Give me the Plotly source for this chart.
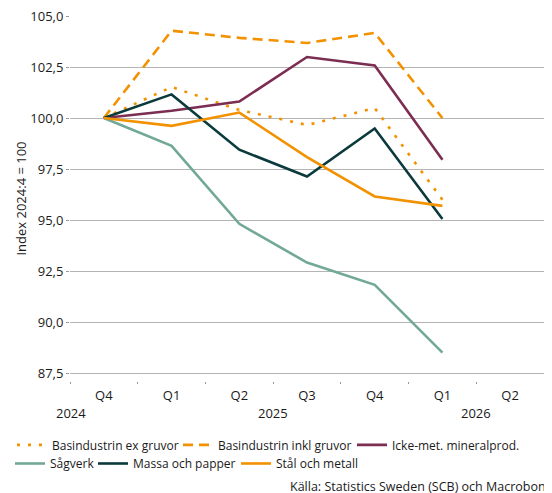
import plotly.graph_objects as go

quarters = ["Q4", "Q1", "Q2", "Q3", "Q4", "Q1", "Q2"]
years = ["2024", "2025", "2026"]

ex_gruvor = [100.0, 101.52, 100.40, 99.66, 100.49, 96.0]
inkl_gruvor = [100.0, 104.28, 103.93, 103.68, 104.17, 100.0]
icke_met = [100.0, 100.36, 100.81, 102.99, 102.58, 97.96]
sagverk = [100.0, 98.64, 94.82, 92.92, 91.83, 88.51]
massa = [100.0, 101.16, 98.45, 97.14, 99.49, 95.06]
stal = [100.0, 99.62, 100.27, 98.09, 96.16, 95.70]

ORANGE = "#F39200"
FONT = "Open Sans"

series = [
    ("Basindustrin ex gruvor", ex_gruvor, ORANGE, "3px,8px"),
    ("Basindustrin inkl gruvor", inkl_gruvor, ORANGE, "10px,6px"),
    ("Icke-met. mineralprod.", icke_met, "#7B2D52", "solid"),
    ("Sågverk", sagverk, "#72A898", "solid"),
    ("Massa och papper", massa, "#0B3A3C", "solid"),
    ("Stål och metall", stal, ORANGE, "solid"),
]

# legend entry placement (paper x, paper y) - two rows, flowing text
legend_pos = [(-0.1224, -0.175), (0.2278, -0.175), (0.5949, -0.175),
              (-0.1266, -0.226), (0.0485, -0.226), (0.3502, -0.226)]

fig = go.Figure()
legend_layout = {}
for i, ((name, vals, col, dash), (lx, ly)) in enumerate(zip(series, legend_pos)):
    key = "legend" if i == 0 else f"legend{i + 1}"
    fig.add_trace(go.Scatter(
        x=list(range(len(vals))), y=vals, name=name, mode="lines",
        line=dict(color=col, width=2.6, dash=dash), legend=key,
    ))
    legend_layout[key] = dict(orientation="h", x=lx, y=ly, xanchor="left",
                              yanchor="middle", font=dict(size=12), itemwidth=30,
                              bgcolor="rgba(0,0,0,0)")

fig.update_layout(
    width=544, height=485,
    margin=dict(l=62, r=8, t=8, b=112, autoexpand=False),
    paper_bgcolor="white", plot_bgcolor="white",
    separators=", ",
    font=dict(family=FONT, size=13, color="#1a1a1a"),
    showlegend=True,
    **legend_layout,
)

fig.update_xaxes(
    range=[-0.5, 6.5], tickmode="array",
    tickvals=list(range(len(quarters))), ticktext=quarters,
    showgrid=False, zeroline=False, showline=False, ticks="",
    tickfont=dict(size=13), ticklabelstandoff=5,
    minor=dict(tickmode="array", tickvals=[i - 0.5 for i in range(len(quarters) + 1)],
               ticks="outside", ticklen=2, tickcolor="#999999", tickwidth=1),
)
# year-boundary ticks (slightly longer)
year_bounds = [0.5, 4.5]
fig.update_layout(xaxis2=dict(
    overlaying="x", matches="x", side="bottom", anchor="y",
    range=[-0.5, 6.5], tickmode="array", tickvals=year_bounds,
    ticks="outside", ticklen=4, tickcolor="#999999", tickwidth=1,
    showticklabels=False, showgrid=False, zeroline=False, showline=False,
))
fig.update_yaxes(
    range=[87.12, 105.0], tickmode="array",
    tickvals=[87.5, 90, 92.5, 95, 97.5, 100, 102.5, 105],
    tickformat=".1f", showgrid=True, gridcolor="#b4b4b4", gridwidth=1,
    zeroline=False, showline=False, ticks="outside", ticklen=3, tickcolor="#999999",
    ticklabeloverflow="allow",
    title=dict(text="Index 2024:4 = 100", font=dict(size=13), standoff=0),
    tickfont=dict(size=13),
)

year_pos = [-0.485, 2.5, 5.5]
for yr, xp in zip(years, year_pos):
    fig.add_annotation(text=yr, x=xp, xref="x", y=-0.0877, yref="paper",
                       showarrow=False, yanchor="middle", font=dict(size=13))

fig.add_annotation(text="Källa: Statistics Sweden (SCB) och Macrobond",
                   x=0.46, xref="paper", xanchor="left", y=-0.2877, yref="paper",
                   yanchor="middle", showarrow=False, font=dict(size=12.5))

fig.write_html("out.html")
